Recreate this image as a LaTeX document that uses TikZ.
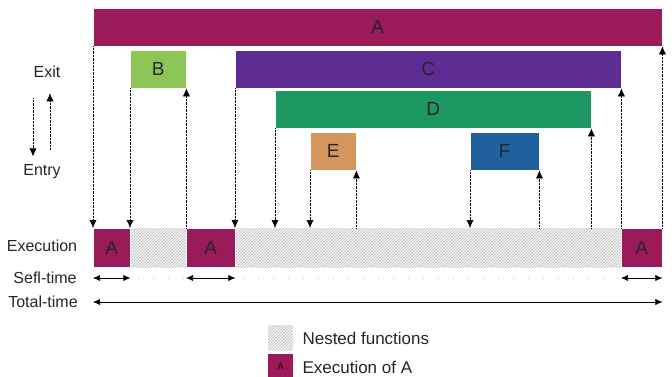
\documentclass[tikz,border=0pt]{standalone}
\usepackage{fontspec}
\setmainfont{Liberation Sans}
\usetikzlibrary{patterns,arrows.meta}
\definecolor{colA}{RGB}{155,27,90}
\definecolor{colB}{RGB}{141,198,86}
\definecolor{colC}{RGB}{92,44,146}
\definecolor{colD}{RGB}{28,152,96}
\definecolor{colE}{RGB}{212,150,92}
\definecolor{colF}{RGB}{32,96,156}
\begin{document}
\begin{tikzpicture}[x=1pt,y=-1pt,
    bar/.style={draw=white, thin, inner sep=0pt, minimum height=38pt,
              anchor=north west, text=black!85, font=\fontsize{19}{19}\selectfont},
    lbl/.style={font=\fontsize{16}{16}\selectfont, text=black!85},
    nested/.style={draw=none, inner sep=0pt, preaction={fill=gray!8},
              pattern=north east lines, pattern color=gray!55},
    call/.style={densely dotted, -{Latex[length=8pt,width=7pt]}},
    span/.style={semithick, {Latex[length=7pt,width=6pt]}-{Latex[length=7pt,width=6pt]}}]
    \useasboundingbox (0,0) rectangle (672,377);
    % function bars
    \foreach \n/\xa/\xb/\ya/\c in {A/93/662/8/colA, B/130/186/50/colB,
            C/235/621/50/colC, D/275/591/90/colD,
            E/310/356/132/colE, F/470/539/132/colF}{
        \node[bar, fill=\c, minimum width={(\xb-\xa)*1pt}] (\n) at (\xa,\ya) {\n};
    };
    % execution row
    \node[nested, anchor=north west, minimum width=569pt, minimum height=39pt]
        (exec) at (93,228) {};
    \foreach \i/\xa/\xb in {1/93/130, 2/186/235, 3/621/662}{
        \node[bar, fill=colA, minimum width={(\xb-\xa)*1pt}, minimum height=39pt]
            (ex\i) at (\xa,228) {A};
    };
    % entry and exit
    \foreach \n in {A,...,F}{
        \draw[call] (\n.south west) -- (\n.south west |- exec.north);
        \draw[call] (\n.south east |- exec.north) -- (\n.south east);
    };
    % labels on the left
    \node[lbl] (exit) at (47,72) {Exit};
    \node[lbl] (entry) at (42,172) {Entry};
    \node[lbl] (execlbl) at (42,246) {Execution};
    \node[lbl] (self) at (45,278) {Sefl-time};
    \node[lbl] (total) at (43,302) {Total-time};
    \draw[call] ([shift={(-14,17)}]exit.south) -- +(0,58);
    \draw[call] ([shift={(3,68)}]exit.south) -- +(0,-56);
    % times
    \foreach \i in {1,2,3}{
        \draw[span] (ex\i.west |- self) -- (ex\i.east |- self);
    };
    \draw[gray!50, line width=1pt, dash pattern=on 1pt off 14pt]
        ([xshift=8pt]ex1.east |- self) -- (ex2.west |- self);
    \draw[gray!50, line width=1pt, dash pattern=on 1pt off 14pt]
        ([xshift=8pt]ex2.east |- self) -- (ex3.west |- self);
    \draw[span, thin] (exec.west |- total) -- (exec.east |- total);
    % legend
    \node[nested, minimum size=25pt] (legN) at (280.5,337.5) {};
    \node[lbl, anchor=west, font=\fontsize{17}{17}\selectfont] (legNtext)
        at (299,338) {Nested functions};
    \node[fill=colA, inner sep=0pt, minimum width=25pt, minimum height=24pt,
        font=\fontsize{9}{9}\selectfont] (legA) at (280.5,366) {A};
    \node[lbl, anchor=west, font=\fontsize{17}{17}\selectfont] (legAtext)
        at (299,367) {Execution of A};
\end{tikzpicture}
\end{document}
